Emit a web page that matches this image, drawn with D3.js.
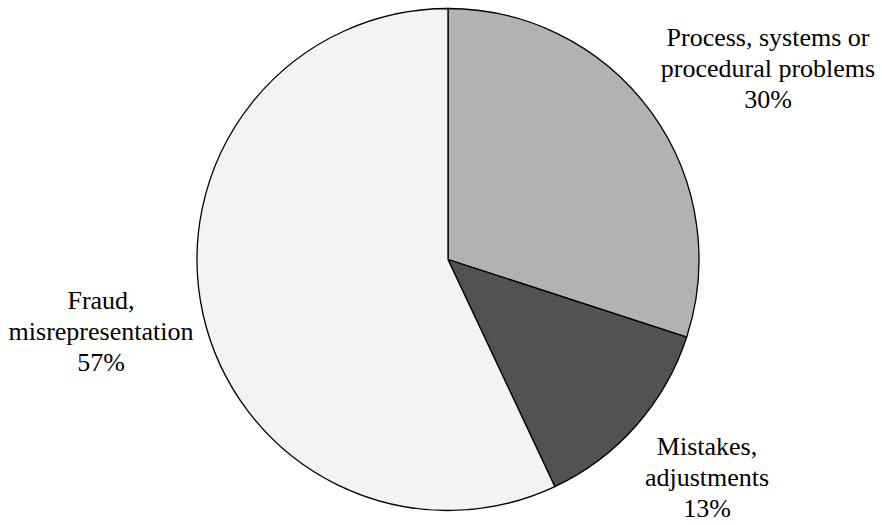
<!DOCTYPE html>
<html>
<head>
<meta charset="utf-8">
<script src="https://cdn.jsdelivr.net/npm/d3@7"></script>
<style>
  body { margin: 0; background: #fff; }
</style>
</head>
<body>
<div id="chart"></div>
<script>
// Chart data
const categories = ["Process, systems or procedural problems", "Mistakes, adjustments", "Fraud, misrepresentation"];
const values = [30, 13, 57];
const labelLines = [
  ["Process, systems or", "procedural problems"],
  ["Mistakes,", "adjustments"],
  ["Fraud,", "misrepresentation"]
];

function drawPie() {
  const width = 882;
  const height = 525;
  const cx = 448;
  const cy = 259.5;
  const radius = 251;

  const data = categories.map((c, i) => ({ cause: c, count: values[i], lines: labelLines[i] }));

  const svg = d3
    .select("#chart")
    .append("svg")
    .attr("width", width)
    .attr("height", height);

  const g = svg.append("g").attr("transform", `translate(${cx},${cy})`);

  // greys like the original
  const colorScale = d3
    .scaleOrdinal()
    .domain(categories)
    .range(["#b2b2b2", "#525252", "#f3f3f3"]);

  const pie = d3
    .pie()
    .value(d => d.count)
    .sort(null);

  const arc = d3.arc().innerRadius(0).outerRadius(radius);

  g.selectAll("path")
    .data(pie(data))
    .enter()
    .append("path")
    .attr("d", arc)
    .attr("fill", d => colorScale(d.data.cause))
    .attr("stroke", "#000")
    .attr("stroke-width", 1.3);

  // label anchors (centre of first line, relative to pie centre)
  const labelPos = [
    { x: 320, y: -214 },
    { x: 259, y: 195 },
    { x: -347, y: 49 }
  ];
  const lineHeight = 31;

  const labels = g.selectAll(".label")
    .data(data)
    .enter()
    .append("text")
    .attr("class", "label")
    .attr("text-anchor", "middle")
    .attr("font-family", "Liberation Serif, DejaVu Serif, serif")
    .attr("font-size", 26)
    .attr("fill", "#000")
    .attr("x", (d, i) => labelPos[i].x)
    .attr("y", (d, i) => labelPos[i].y);

  labels.each(function (d, i) {
    const t = d3.select(this);
    const lines = d.lines.concat([d.count + "%"]);
    lines.forEach((l, k) => {
      t.append("tspan")
        .attr("x", labelPos[i].x)
        .attr("dy", k === 0 ? 0 : lineHeight)
        .text(l);
    });
  });
}

drawPie();
</script>
</body>
</html>
